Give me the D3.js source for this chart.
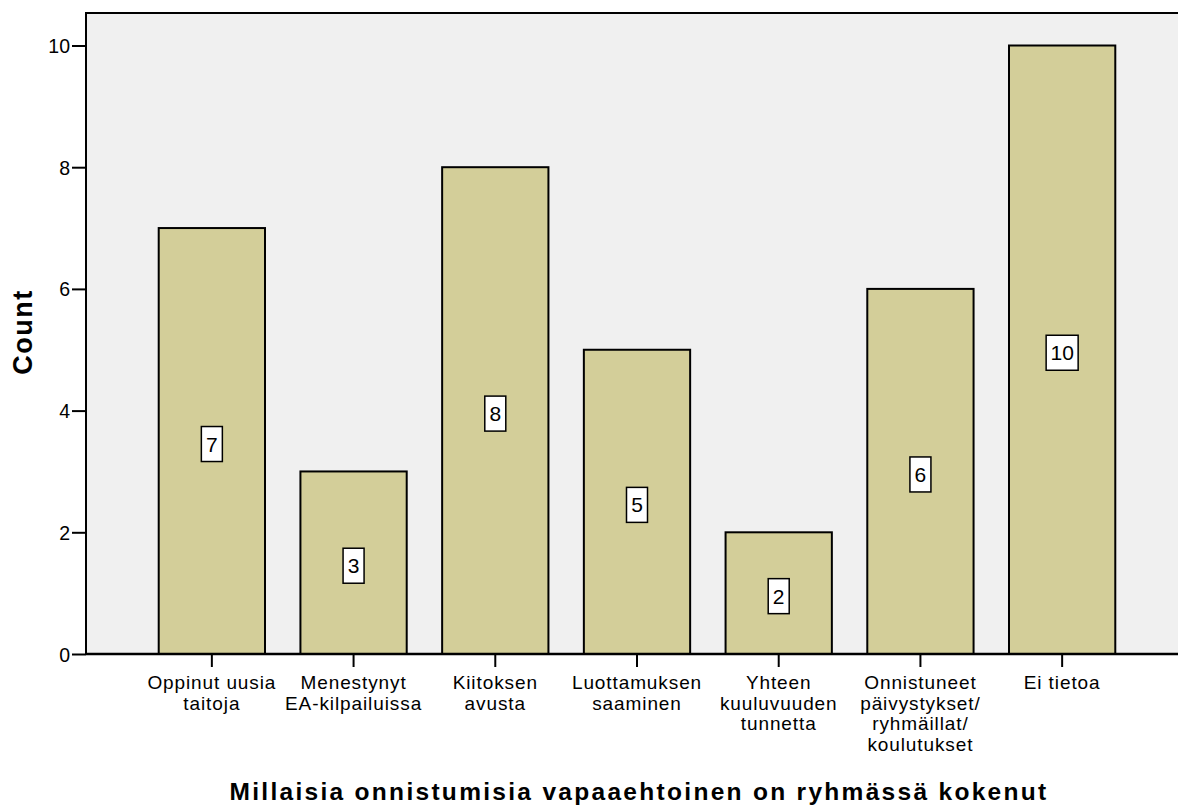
<!DOCTYPE html>
<html>
<head>
<meta charset="utf-8">
<script src="https://cdn.jsdelivr.net/npm/d3@7"></script>
<style>
  body { margin: 0; background: #fff; }
  text { font-family: "Liberation Sans", Arial, sans-serif; fill: #000; }
</style>
</head>
<body>
<div id="graph"></div>
<script>
// categories (already split in lines as on the chart)
const categories = [
  ["Oppinut uusia", "taitoja"],
  ["Menestynyt", "EA-kilpailuissa"],
  ["Kiitoksen", "avusta"],
  ["Luottamuksen", "saaminen"],
  ["Yhteen", "kuuluvuuden", "tunnetta"],
  ["Onnistuneet", "päivystykset/", "ryhmäillat/", "koulutukset"],
  ["Ei tietoa"]
];
const counts = [7, 3, 8, 5, 2, 6, 10];
const yTicks = [0, 2, 4, 6, 8, 10];
const xTitle = "Millaisia onnistumisia vapaaehtoinen on ryhmässä kokenut";
const yTitle = "Count";

const fullwidth = 1178;
const fullheight = 805;
const plotLeft = 86, plotTop = 13, plotRight = 1190, plotBottom = 654;

var svg = d3.select("#graph").append("svg")
  .attr("width", fullwidth)
  .attr("height", fullheight);

var keys = categories.map(c => c.join(" "));

var x = d3.scaleBand()
  .domain(keys)
  .range([141, 1133])
  .paddingInner(0.25)
  .paddingOuter(0.125);

var y = d3.scaleLinear()
  .domain([0, 10])
  .range([plotBottom, 45.5]);

// plot background
svg.append("rect")
  .attr("x", plotLeft).attr("y", plotTop)
  .attr("width", plotRight - plotLeft).attr("height", plotBottom - plotTop)
  .style("fill", "#f0f0f0")
  .style("stroke", "#000")
  .style("stroke-width", 2);

// bars
svg.selectAll("rect.bar")
  .data(counts)
  .enter().append("rect")
  .attr("class", "bar")
  .attr("x", (d, i) => x(keys[i]))
  .attr("y", d => y(d))
  .attr("width", x.bandwidth())
  .attr("height", d => y(0) - y(d))
  .style("fill", "#d3ce99")
  .style("stroke", "#000")
  .style("stroke-width", 2);

// value labels
var labels = svg.selectAll("g.vlabel")
  .data(counts)
  .enter().append("g")
  .attr("class", "vlabel")
  .attr("transform", (d, i) => "translate(" + (x(keys[i]) + x.bandwidth() / 2) + "," + (y(d / 2) + 3) + ")");

labels.append("rect")
  .attr("x", d => d >= 10 ? -16 : -10.5)
  .attr("y", -17.5)
  .attr("width", d => d >= 10 ? 32 : 21)
  .attr("height", 35)
  .style("fill", "#fff")
  .style("stroke", "#000")
  .style("stroke-width", 1.5);

labels.append("text")
  .attr("text-anchor", "middle")
  .attr("y", 7.5)
  .style("font-size", "21px")
  .text(d => d);

// y axis
var yAxis = d3.axisLeft(y).tickValues(yTicks).tickSize(14).tickPadding(2);
var gy = svg.append("g")
  .attr("transform", "translate(" + plotLeft + ",0)")
  .call(yAxis);
gy.select(".domain").remove();
gy.selectAll(".tick line").style("stroke", "#000").style("stroke-width", 2);
gy.selectAll(".tick text").style("font-size", "19.5px").attr("dy", "0.36em");

// x axis
var xAxis = d3.axisBottom(x).tickSize(13).tickFormat("");
var gx = svg.append("g")
  .attr("transform", "translate(0," + plotBottom + ")")
  .call(xAxis);
gx.select(".domain").remove();
gx.selectAll(".tick line").style("stroke", "#000").style("stroke-width", 2);

// bottom axis line
svg.append("line")
  .attr("x1", plotLeft).attr("x2", plotRight)
  .attr("y1", plotBottom).attr("y2", plotBottom)
  .style("stroke", "#000").style("stroke-width", 2.5);

// category labels
categories.forEach(function (lines, i) {
  var cx = x(keys[i]) + x.bandwidth() / 2;
  var t = svg.append("text")
    .attr("text-anchor", "middle")
    .attr("x", cx)
    .attr("y", 689)
    .style("font-size", "19px")
    .style("letter-spacing", "0.9px");
  lines.forEach(function (l, j) {
    t.append("tspan")
      .attr("x", cx)
      .attr("dy", j == 0 ? 0 : 20.5)
      .text(l);
  });
});

// titles
svg.append("text")
  .attr("text-anchor", "middle")
  .attr("x", 639)
  .attr("y", 800)
  .style("font-size", "24.5px")
  .style("font-weight", "bold")
  .style("letter-spacing", "2.3px")
  .text(xTitle);

svg.append("text")
  .attr("text-anchor", "middle")
  .attr("transform", "translate(32,332) rotate(-90)")
  .style("font-size", "27px")
  .style("font-weight", "bold")
  .style("letter-spacing", "1.5px")
  .text(yTitle);
</script>
</body>
</html>
